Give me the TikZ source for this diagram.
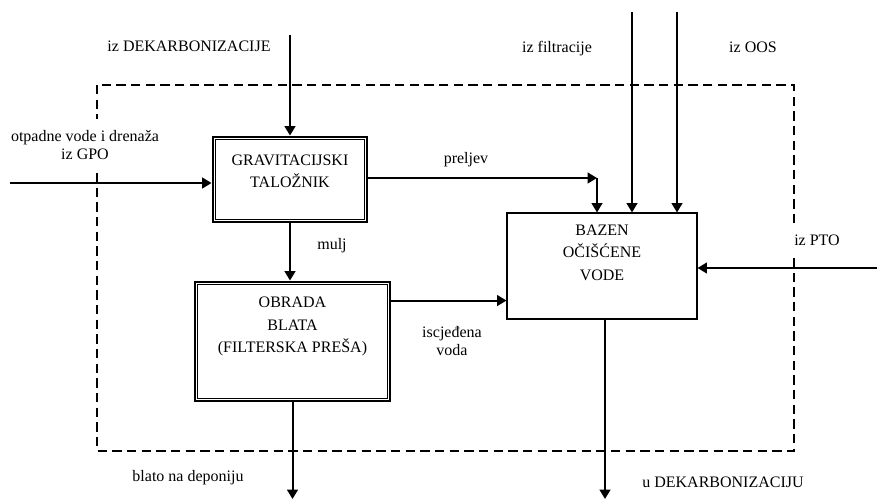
\documentclass[tikz,border=0pt]{standalone}
\usepackage{fontspec}
\setmainfont{Liberation Serif}
\usetikzlibrary{arrows.meta,fit}

\tikzset{
  flow/.style={line width=1.5pt, -{Triangle[length=7pt,width=8pt]}},
  tank/.style={draw, line width=2.2pt, inner sep=0pt},
  tankin/.style={draw, line width=0.8pt, inner sep=-3.3pt},
  basin/.style={draw, line width=0.8pt, inner sep=0pt},
  boxtext/.style={align=center, font=\fontsize{12}{17}\selectfont, inner sep=0pt},
  lbl/.style={align=center, font=\fontsize{12}{14}\selectfont, fill=white, inner xsep=2pt, inner ysep=8pt},
  frame/.style={line width=1.5pt, dash pattern=on 7pt off 4pt},
}

\begin{document}
\begin{tikzpicture}[x=0.75pt, y=-0.75pt]
        \useasboundingbox (0,0) rectangle (877,500);

        \draw[frame] (97,85) rectangle (794,451);

        \node[tank, minimum width=115.5pt, minimum height=63.75pt, label={[boxtext, anchor=north, yshift=-14pt]north:{GRAVITACIJSKI\\TALOŽNIK}}] (grav) at (290,179.5) {};
        \node[tankin, fit=(grav)] (gravin) {};
        \node[tank, minimum width=146.25pt, minimum height=89.25pt, label={[boxtext, anchor=north, yshift=-12pt]north:{OBRADA\\BLATA\\(FILTERSKA PREŠA)}}] (obr) at (292.5,341.5) {};
        \node[tankin, fit=(obr)] (obrin) {};
        \node[basin, minimum width=142.5pt, minimum height=79.5pt, label={[boxtext, anchor=north, yshift=-9pt]north:{BAZEN\\OČIŠĆENE\\VODE}}] (baz) at (602,266) {};

        \node[lbl] (lbldek)   at (189,46)  {iz DEKARBONIZACIJE};
        \node[lbl] (lblgpo)   at (85,145)  {otpadne vode i drenaža\\iz GPO};
        \node[lbl] (lblprel)  at (466,160) {preljev};
        \node[lbl] (lblfilt)  at (557,49)  {iz filtracije};
        \node[lbl] (lbloos)   at (753,47)  {iz OOS};
        \node[lbl] (lblpto)   at (817,240) {iz PTO};
        \node[lbl] (lblmulj)  at (332,246) {mulj};
        \node[lbl] (lblisc)   at (452,341) {iscjeđena\\voda};
        \node[lbl] (lblblato) at (188,478) {blato na deponiju};
        \node[lbl] (lbludek)  at (723,482) {u DEKARBONIZACIJU};

        \coordinate (dek)   at (290,35);
        \coordinate (gpo)   at (10,183);
        \coordinate (prel)  at (597,178);
        \coordinate (filt)  at (632,12);
        \coordinate (oos)   at (677,12);
        \coordinate (pto)   at (877,268);
        \coordinate (blato) at (292.5,499);
        \coordinate (udek)  at (605,499);

        \draw[flow] (dek) -- (dek |- grav.north);
        \draw[flow] (gpo) -- (gpo -| grav.west);
        \draw[flow] (grav.east |- prel) -- (prel);
        \draw[flow] (prel) -- (prel |- baz.north);
        \draw[flow] (filt) -- (filt |- baz.north);
        \draw[flow] (oos) -- (oos |- baz.north);
        \draw[flow] (pto) -- (pto -| baz.east);
        \draw[flow] (grav.south) -- (grav.south |- obr.north);
        \draw[flow] ([yshift=-15pt]obr.north east) -- ([yshift=-15pt]obr.north east -| baz.west);
        \draw[flow] (obr.south) -- (blato);
        \draw[flow] (udek |- baz.south) -- (udek);
\end{tikzpicture}
\end{document}
